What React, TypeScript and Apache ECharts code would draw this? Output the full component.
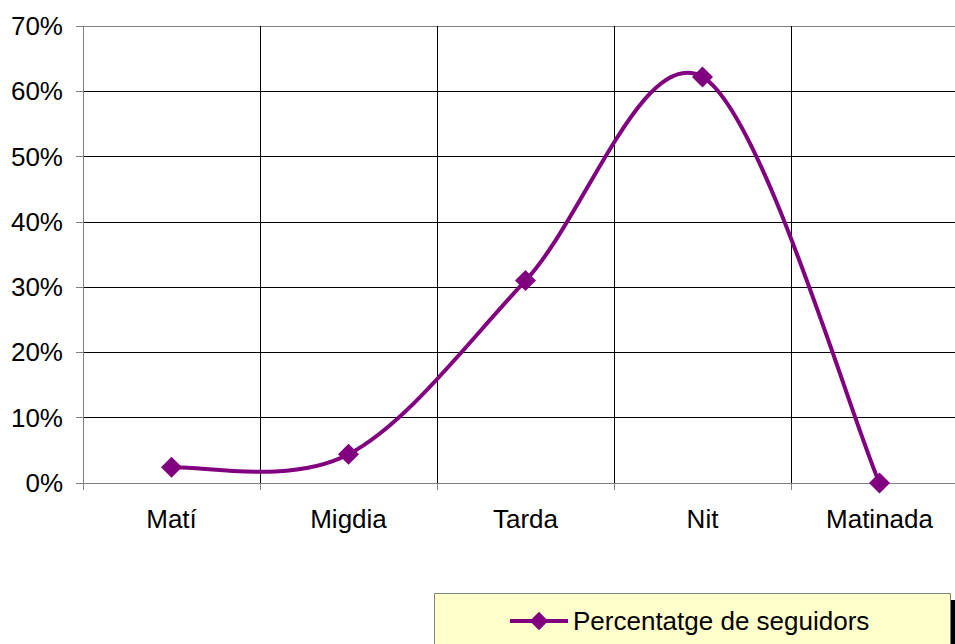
import React, { useEffect, useRef } from "react";
import * as echarts from "echarts";

const categories = ["Matí", "Migdia", "Tarda", "Nit", "Matinada"];
const seriesName = "Percentatge de seguidors";
const values = [0.024, 0.044, 0.31, 0.622, 0];
const yMin = 0;
const yMax = 0.7;
const yInterval = 0.1;

const FONT = "'Liberation Sans', Arial, sans-serif";
const PURPLE = "#800080";
const FS = 26;

function smoothPath(pts: number[][]): string {
  // Catmull-Rom style (tension 1/6) bezier through points
  let d = `M${pts[0][0]},${pts[0][1]}`;
  for (let i = 0; i < pts.length - 1; i++) {
    const p0 = pts[Math.max(0, i - 1)];
    const p1 = pts[i];
    const p2 = pts[i + 1];
    const p3 = pts[Math.min(pts.length - 1, i + 2)];
    const c1x = p1[0] + (p2[0] - p0[0]) / 6;
    const c1y = p1[1] + (p2[1] - p0[1]) / 6;
    const c2x = p2[0] - (p3[0] - p1[0]) / 6;
    const c2y = p2[1] - (p3[1] - p1[1]) / 6;
    d += ` C${c1x},${c1y} ${c2x},${c2y} ${p2[0]},${p2[1]}`;
  }
  return d;
}

export default function App() {
  const ref = useRef<HTMLDivElement>(null);
  useEffect(() => {
    if (!ref.current) return;
    const chart = echarts.init(ref.current, null, { renderer: "svg" });
    chart.setOption({
      animation: false,
      backgroundColor: "#ffffff",
      textStyle: { fontFamily: FONT },
      grid: { left: 83, top: 26, right: 7, bottom: 161, containLabel: false },
      xAxis: {
        type: "category",
        data: categories,
        boundaryGap: true,
        axisLine: { show: true, lineStyle: { color: "#808080", width: 1 } },
        axisTick: { show: true, length: 7, lineStyle: { color: "#808080" } },
        axisLabel: { color: "#000", fontSize: FS, fontFamily: FONT, margin: 23 },
        splitLine: { show: true, lineStyle: { color: "#000", width: 1 } },
      },
      yAxis: {
        type: "value",
        min: yMin,
        max: yMax,
        interval: yInterval,
        axisLine: { show: true, lineStyle: { color: "#808080", width: 1 } },
        axisTick: { show: true, length: 7, lineStyle: { color: "#808080" } },
        axisLabel: {
          color: "#000",
          fontSize: FS,
          fontFamily: FONT,
          margin: 20,
          formatter: (v: number) => Math.round(v * 100) + "%",
        },
        splitLine: {
          show: true,
          lineStyle: {
            color: ["#808080", "#000", "#000", "#000", "#000", "#000", "#000", "#808080"],
            width: 1,
          },
        },
      },
      legend: {
        show: true,
        left: 508,
        top: 608,
        padding: 0,
        itemWidth: 58,
        itemHeight: 23,
        itemGap: 0,
        lineStyle: { color: PURPLE, width: 4, opacity: 1 },
        textStyle: { color: "#000", fontSize: FS, fontFamily: FONT },
        data: [seriesName],
      },
      graphic: [
        {
          type: "rect",
          z: -1,
          shape: { x: 440, y: 600, width: 516, height: 60 },
          style: { fill: "#000" },
          silent: true,
        },
        {
          type: "rect",
          z: -1,
          shape: { x: 434.5, y: 593.5, width: 516, height: 60 },
          style: { fill: "#FFFFCC", stroke: "#808080", lineWidth: 1 },
          silent: true,
        },
      ],
      series: [
        {
          name: "curve",
          type: "custom",
          silent: true,
          z: 2,
          clip: false,
          data: [0],
          renderItem: (params: any, api: any) => {
            const pts = values.map((v, i) => api.coord([i, v]));
            return {
              type: "path",
              shape: { pathData: smoothPath(pts) },
              style: { fill: "none", stroke: PURPLE, lineWidth: 4 },
            };
          },
        },
        {
          name: seriesName,
          type: "line",
          z: 3,
          data: values,
          symbol: "diamond",
          symbolSize: 21,
          lineStyle: { color: PURPLE, width: 4, opacity: 0 },
          itemStyle: { color: PURPLE },
        },
      ],
    });
    return () => chart.dispose();
  }, []);
  return (
    <div
      ref={ref}
      style={{ position: "fixed", left: 0, top: 0, width: 975, height: 644 }}
    />
  );
}
